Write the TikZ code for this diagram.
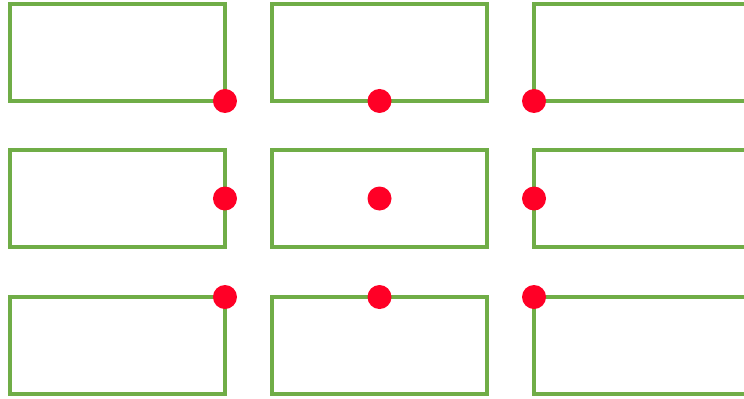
\documentclass[tikz,border=0pt]{standalone}
\usepackage{tikz}
\usetikzlibrary{positioning}
\definecolor{greenx}{HTML}{70AD47}
\definecolor{redx}{HTML}{FF0026}
\tikzset{
  cell/.style={draw=greenx,line width=2pt,minimum width=4.3cm,minimum height=1.94cm,inner sep=0pt,outer sep=0pt},
  dot/.style={fill=redx}
}

\begin{document}
\begin{tikzpicture}[x=0.02cm,y=-0.02cm]
\useasboundingbox (0,0) rectangle (744,399);
\clip (0,0) rectangle (744,399);
\node[cell] (r11) at (117.5,52.5) {};
\node[cell] (r12) at (379.5,52.5) {};
\node[cell] (r13) at (641.5,52.5) {};
\node[cell] (r21) at (117.5,198.5) {};
\node[cell] (r22) at (379.5,198.5) {};
\node[cell] (r23) at (641.5,198.5) {};
\node[cell] (r31) at (117.5,345.5) {};
\node[cell] (r32) at (379.5,345.5) {};
\node[cell] (r33) at (641.5,345.5) {};
% anchors
\fill[dot] (r11.south east) circle (12);
\fill[dot] (r12.south) circle (12);
\fill[dot] (r13.south west) circle (12);
\fill[dot] (r21.east) circle (12);
\fill[dot] (r22.center) circle (12);
\fill[dot] (r23.west) circle (12);
\fill[dot] (r31.north east) circle (12);
\fill[dot] (r32.north) circle (12);
\fill[dot] (r33.north west) circle (12);
\end{tikzpicture}
\end{document}
